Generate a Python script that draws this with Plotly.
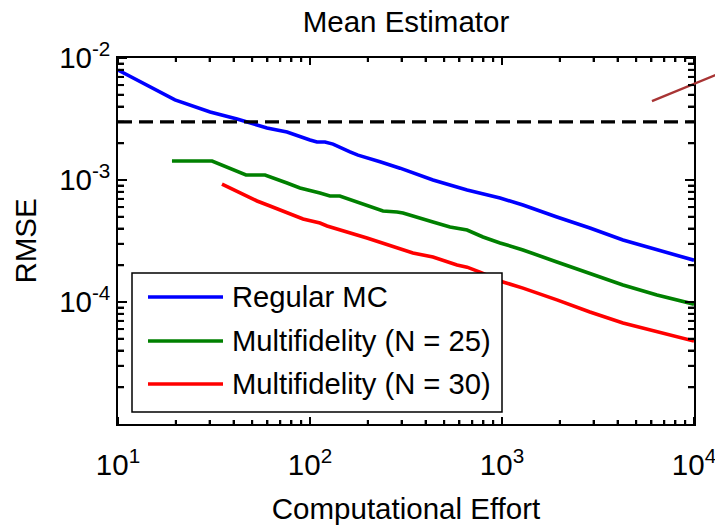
import plotly.graph_objects as go

# ---- data -------------------------------------------------------------
series_names = ["Regular MC", "Multifidelity (N = 25)", "Multifidelity (N = 30)"]
series_colors = ["#0000FF", "#008000", "#FF0000"]

effort_mc = [10, 19.8, 30.2, 41.7, 59.7, 75.9, 100, 108.7, 119.7, 131.8, 161.5,
             177.8, 231.6, 294.4, 437, 658, 977, 1286, 1932, 2870, 4266, 6412, 10000]
rmse_mc = [7.97e-3, 4.53e-3, 3.61e-3, 3.16e-3, 2.67e-3, 2.47e-3, 2.13e-3, 2.05e-3,
           2.05e-3, 1.97e-3, 1.70e-3, 1.60e-3, 1.41e-3, 1.25e-3, 1.00e-3, 8.28e-4,
           7.12e-4, 6.23e-4, 4.97e-4, 4.04e-4, 3.22e-4, 2.67e-4, 2.2e-4]

effort_mf25 = [19.1, 30.9, 46.4, 58.3, 75.9, 88.7, 112.7, 127, 143, 198, 240, 284,
               305, 437, 536, 658, 796, 977, 1286, 1932, 2870, 4266, 6412, 10000]
rmse_mf25 = [1.43e-3, 1.43e-3, 1.10e-3, 1.10e-3, 9.44e-4, 8.6e-4, 7.82e-4, 7.40e-4,
             7.40e-4, 6.23e-4, 5.57e-4, 5.47e-4, 5.37e-4, 4.53e-4, 4.12e-4, 3.89e-4,
             3.41e-4, 3.05e-4, 2.67e-4, 2.13e-4, 1.73e-4, 1.38e-4, 1.14e-4, 9.6e-5]

effort_mf30 = [34.8, 53, 61.9, 92, 112.7, 122.7, 198, 261, 343.6, 437, 583, 658,
               768, 1012, 1286, 1932, 2870, 4266, 6412, 10000]
rmse_mf30 = [9.27e-4, 6.73e-4, 6.12e-4, 4.79e-4, 4.44e-4, 4.20e-4, 3.35e-4, 2.93e-4,
             2.52e-4, 2.34e-4, 2.01e-4, 1.93e-4, 1.76e-4, 1.46e-4, 1.30e-4, 1.04e-4,
             8.27e-5, 6.73e-5, 5.68e-5, 4.79e-5]

# target accuracy level
target_effort = [10, 10000]
target_rmse = [3e-3, 3e-3]

# reference slope segment (runs past the right edge of the axes)
ref_effort = [6040, 20000]
ref_rmse = [4.44e-3, 9.6e-3]

x_major = [10, 100, 1000, 10000]
x_major_text = ["10<sup>1</sup>", "10<sup>2</sup>", "10<sup>3</sup>", "10<sup>4</sup>"]
y_major = [1e-4, 1e-3, 1e-2]
y_major_text = ["10<sup>-4</sup>", "10<sup>-3</sup>", "10<sup>-2</sup>"]

# ---- layout constants ---------------------------------------------------
FONT = "Liberation Sans, Arial, sans-serif"
FS = 29.5
FS_LEG = 29.2
W, H = 715, 527
ML, MT, MB = 118, 58, 103
AX_W = 576                      # width of the axes box in px
AX_H = H - MT - MB              # height of the axes box in px
PAPER_W = W - ML
DOM = AX_W / PAPER_W            # main x-domain fraction
X_LOG = (1, 4)
Y_LOG = (-5, -2)


def minor_vals(lo, hi):
    vals = []
    for e in range(lo, hi):
        for m in range(2, 10):
            vals.append(m * 10 ** e)
    return vals


def tick_arrays(major, major_text, minor):
    """All tick positions on one axis; only decades carry a label."""
    vals = list(major) + list(minor)
    text = list(major_text) + [""] * len(minor)
    return vals, text


x_minor = minor_vals(1, 4)
y_minor = minor_vals(-5, -2)
x_tickvals, x_ticktext = tick_arrays(x_major, x_major_text, x_minor)
y_tickvals, y_ticktext = tick_arrays(y_major, y_major_text, y_minor)

fig = go.Figure()

for name, color, xs, ys in zip(series_names, series_colors,
                               [effort_mc, effort_mf25, effort_mf30],
                               [rmse_mc, rmse_mf25, rmse_mf30]):
    fig.add_trace(go.Scatter(x=xs, y=ys, mode="lines", name=name,
                             line=dict(color=color, width=3.6),
                             showlegend=False))

fig.add_trace(go.Scatter(x=target_effort, y=target_rmse, mode="lines",
                         line=dict(color="black", width=3.2, dash="14px,7px"),
                         showlegend=False))

# slope segment on its own hidden subplot that spans to the page edge
fig.add_trace(go.Scatter(x=ref_effort, y=ref_rmse, mode="lines",
                         xaxis="x2", yaxis="y2",
                         line=dict(color="#A83434", width=2.4),
                         showlegend=False))

axis_common = dict(type="log", showgrid=False, zeroline=False, showline=True,
                   linecolor="black", linewidth=1.5, mirror="ticks",
                   ticks="inside", tickcolor="black", tickwidth=2,
                   tickmode="array", ticklabeloverflow="allow",
                   tickfont=dict(family=FONT, size=FS, color="black"))

fig.update_layout(
    width=W, height=H,
    margin=dict(l=ML, r=0, t=MT, b=MB, autoexpand=False),
    paper_bgcolor="white", plot_bgcolor="rgba(0,0,0,0)",
    title=dict(text="Mean Estimator", x=(ML + AX_W / 2) / W, xanchor="center",
               y=1 - 22 / H, yanchor="middle",
               font=dict(family=FONT, size=FS, color="black")),
    xaxis=dict(axis_common, domain=[0, DOM], range=list(X_LOG),
               tickvals=x_tickvals, ticktext=x_ticktext, ticklen=4,
               ticklabelstandoff=14,
               title=dict(text="Computational Effort", standoff=18,
                          font=dict(family=FONT, size=FS, color="black"))),
    yaxis=dict(axis_common, range=list(Y_LOG),
               tickvals=y_tickvals, ticktext=y_ticktext, ticklen=6,
               title=dict(text="RMSE", standoff=14,
                          font=dict(family=FONT, size=FS, color="black"))),
    xaxis2=dict(type="log", domain=[0, 1], anchor="y2", visible=False,
                range=[X_LOG[0], X_LOG[0] + (X_LOG[1] - X_LOG[0]) / DOM]),
    yaxis2=dict(type="log", domain=[0, 1], anchor="x2", visible=False,
                range=list(Y_LOG)),
)

# tick marks on all four sides of the box (decades longer than the rest)
tick_line = dict(color="black", width=2)
for v in x_tickvals:
    ln = (7 if v in x_major else 4) / AX_H
    for y0, y1 in ((0, ln), (1 - ln, 1)):
        fig.add_shape(type="line", xref="x", yref="y domain", layer="above",
                      x0=v, x1=v, y0=y0, y1=y1, line=tick_line)
for v in y_tickvals:
    ln = (9 if v in y_major else 6) / AX_W
    for x0, x1 in ((0, ln), (1 - ln, 1)):
        fig.add_shape(type="line", xref="x domain", yref="y", layer="above",
                      x0=x0, x1=x1, y0=v, y1=v, line=tick_line)

# legend box drawn inside the axes
box = dict(x0=14 / AX_W, x1=384 / AX_W, y0=12 / AX_H, y1=151 / AX_H)
fig.add_shape(type="rect", xref="paper", yref="paper", layer="above",
              x0=box["x0"] * DOM, x1=box["x1"] * DOM, y0=box["y0"], y1=box["y1"],
              fillcolor="white", line=dict(color="black", width=1.5))
row_y = [127 / AX_H, 83 / AX_H, 40 / AX_H]
for name, color, yy in zip(series_names, series_colors, row_y):
    fig.add_shape(type="line", xref="paper", yref="paper", layer="above",
                  x0=30 / AX_W * DOM, x1=105 / AX_W * DOM, y0=yy, y1=yy,
                  line=dict(color=color, width=3.6))
    fig.add_annotation(xref="paper", yref="paper", x=112 / AX_W * DOM, y=yy,
                       xanchor="left", yanchor="middle", showarrow=False,
                       text=name, font=dict(family=FONT, size=FS_LEG, color="black"))

fig.write_html("out.html")
